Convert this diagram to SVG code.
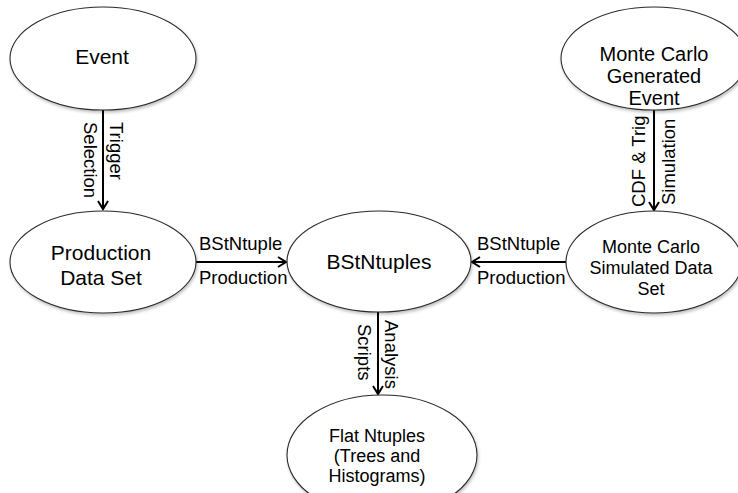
<svg xmlns="http://www.w3.org/2000/svg" width="738" height="493" viewBox="0 0 738 493">
<style>
  .node ellipse { fill: #ffffff; stroke: #2b2b2b; stroke-width: 1.1; filter: url(#sh); }
  .nt { font-family: "Liberation Sans", Arial, sans-serif; fill: #000; text-anchor: middle; }
  .lbl { font-family: "Liberation Sans", Arial, sans-serif; fill: #000; font-size: 18.5px; }
  .edge { stroke: #000; stroke-width: 2; fill: none; marker-end: url(#arr); }
</style>
<defs>
  <filter id="sh" x="-10%" y="-10%" width="125%" height="130%">
    <feDropShadow dx="1" dy="2" stdDeviation="1.5" flood-color="#000" flood-opacity="0.25"/>
  </filter>
  <marker id="arr" markerUnits="userSpaceOnUse" viewBox="-12 -8 16 16" markerWidth="16" markerHeight="16" refX="0" refY="0" orient="auto">
    <path d="M-8,-5 L0,0 L-8,5" fill="none" stroke="#000" stroke-width="2"/>
  </marker>
</defs>
<rect width="738" height="493" fill="#ffffff"/>

<g id="connectors">
  <line class="edge" x1="103" y1="110" x2="103" y2="209"/>
  <line class="edge" x1="196" y1="262" x2="286" y2="262"/>
  <line class="edge" x1="566" y1="262" x2="472" y2="262"/>
  <line class="edge" x1="654" y1="110" x2="654" y2="210"/>
  <line class="edge" x1="378" y1="312" x2="378" y2="394"/>
  <text class="lbl" transform="translate(109.5,122) rotate(90)">Trigger</text>
  <text class="lbl" transform="translate(84,122) rotate(90)">Selection</text>
  <text class="lbl" x="199" y="250">BStNtuple</text>
  <text class="lbl" x="199" y="284">Production</text>
  <text class="lbl" x="477" y="250">BStNtuple</text>
  <text class="lbl" x="477" y="284">Production</text>
  <text class="lbl" transform="translate(645,207) rotate(-90)">CDF &amp; Trig</text>
  <text class="lbl" transform="translate(675,205) rotate(-90)">Simulation</text>
  <text class="lbl" transform="translate(385,320) rotate(90)">Analysis</text>
  <text class="lbl" transform="translate(358,324) rotate(90)">Scripts</text>
</g>

<g id="event" class="node">
  <ellipse cx="103" cy="58.5" rx="93" ry="51.5"/>
  <text class="nt" x="102" y="64" font-size="21">Event</text>
</g>
<g id="production" class="node">
  <ellipse cx="103" cy="262" rx="93" ry="51"/>
  <text class="nt" x="101" y="260" font-size="21">Production</text>
  <text class="nt" x="101" y="285" font-size="21">Data Set</text>
</g>
<g id="bstntuples" class="node">
  <ellipse cx="379" cy="261.5" rx="92" ry="50.5"/>
  <text class="nt" x="379" y="269" font-size="21">BStNtuples</text>
</g>
<g id="mcgen" class="node">
  <ellipse cx="654" cy="58.5" rx="93" ry="51.5"/>
  <text class="nt" x="654" y="61" font-size="20">Monte Carlo</text>
  <text class="nt" x="654" y="83" font-size="20">Generated</text>
  <text class="nt" x="654" y="105" font-size="20">Event</text>
</g>
<g id="mcsim" class="node">
  <ellipse cx="654" cy="262" rx="88" ry="51"/>
  <text class="nt" x="651" y="253" font-size="18">Monte Carlo</text>
  <text class="nt" x="651" y="274" font-size="18">Simulated Data</text>
  <text class="nt" x="651" y="295" font-size="18">Set</text>
</g>
<g id="flat" class="node">
  <ellipse cx="382" cy="455" rx="95" ry="60"/>
  <text class="nt" x="377" y="442" font-size="18">Flat Ntuples</text>
  <text class="nt" x="377" y="462" font-size="18">(Trees and</text>
  <text class="nt" x="377" y="482" font-size="18">Histograms)</text>
</g>
</svg>
